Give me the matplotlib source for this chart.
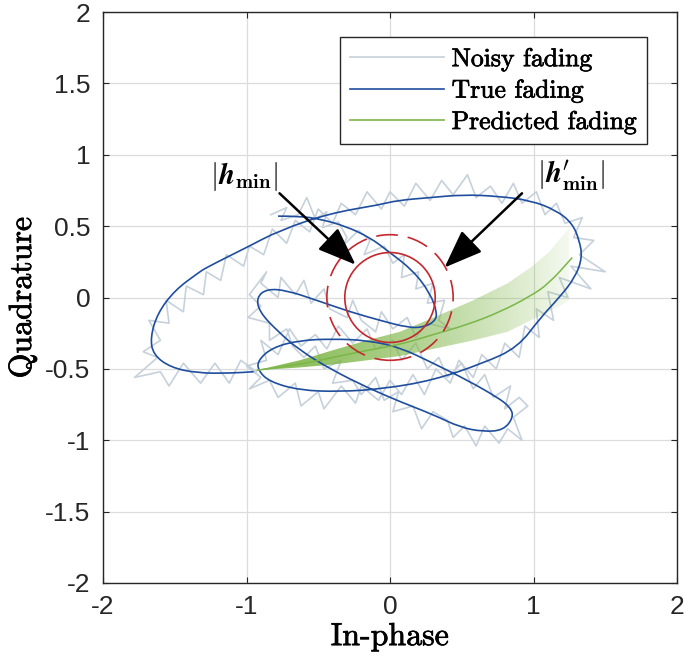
import numpy as np
import matplotlib
matplotlib.use("Agg")
import matplotlib.pyplot as plt
from matplotlib.patches import Polygon, Circle, PathPatch
from matplotlib.path import Path
from matplotlib.lines import Line2D
from matplotlib.colors import to_rgb
import matplotlib.patheffects as pe

# ---------------- data ----------------
true_x = [-0.78, -0.63, -0.49, -0.31, -0.14, -0.02, 0.16, 0.28, 0.33, 0.31, 0.23, 0.12,
          -0.07, -0.28, -0.51, -0.72, -0.86, -0.93, -0.91, -0.79, -0.63, -0.40, -0.16, 0.07,
          0.30, 0.49, 0.65, 0.79, 0.86, 0.84, 0.75, 0.54, 0.30, 0.07, -0.16, -0.40, -0.63,
          -0.82, -0.92, -0.92, -0.84, -0.63, -0.35, -0.05, 0.30, 0.65, 0.89, 1.05, 1.18,
          1.29, 1.34, 1.32, 1.27, 1.16, 0.98, 0.75, 0.51, 0.28, 0.05, -0.07, -0.42, -0.77,
          -1.00, -1.28, -1.34, -1.50, -1.62, -1.67, -1.65, -1.53, -1.34, -1.11, -0.95]
true_y = [0.57, 0.57, 0.55, 0.50, 0.42, 0.33, 0.19, 0.03, -0.11, -0.17, -0.21, -0.21,
          -0.16, -0.10, -0.02, 0.05, 0.06, 0.00, -0.10, -0.23, -0.37, -0.51, -0.63, -0.73,
          -0.82, -0.91, -0.94, -0.93, -0.84, -0.77, -0.70, -0.58, -0.46, -0.35, -0.30, -0.29,
          -0.30, -0.35, -0.44, -0.51, -0.59, -0.65, -0.66, -0.64, -0.58, -0.46, -0.35, -0.14,
          0.00, 0.14, 0.28, 0.40, 0.52, 0.61, 0.68, 0.71, 0.72, 0.70, 0.68, 0.65, 0.59,
          0.47, 0.35, 0.21, 0.17, 0.05, -0.11, -0.28, -0.40, -0.49, -0.53, -0.53, -0.52]

noisy_x = [-0.83, -0.72, -0.76, -0.64, -0.58, -0.52, -0.44, -0.47, -0.36, -0.30, -0.33, -0.22,
           -0.14, -0.18, -0.04, 0.02, 0.10, 0.08, 0.20, 0.18, 0.30, 0.26, 0.38, 0.34, 0.42, 0.26,
           0.18, 0.12, 0.02, -0.06, -0.10, -0.20, -0.26, -0.30, -0.42, -0.46, -0.55, -0.60,
           -0.66, -0.76, -0.78, -0.90, -0.86, -0.98, -0.90, -0.99, -0.84,
           -0.84, -0.72, -0.68, -0.60, -0.52, -0.46, -0.34, -0.40, -0.26, -0.20, -0.10, -0.04,
           0.06, 0.02, 0.16, 0.22, 0.30, 0.40, 0.44, 0.52, 0.60, 0.66, 0.76, 0.82, 0.92, 0.86,
           0.96, 0.90, 0.80, 0.84,
           0.72, 0.66, 0.58, 0.50, 0.40, 0.34, 0.26, 0.18, 0.08, 0.02, -0.10, -0.16, -0.26,
           -0.36, -0.44, -0.52, -0.62, -0.70, -0.78, -0.90, -0.86, -1.00, -0.90, -0.98,
           -0.84, -0.78, -0.66, -0.62, -0.50, -0.46, -0.34, -0.24, -0.20, -0.08, 0.00, 0.08,
           0.16, 0.24, 0.32, 0.42, 0.48, 0.58, 0.64, 0.74, 0.80, 0.90, 0.94, 1.04, 1.02,
           1.14, 1.10, 1.24, 1.18, 1.40, 1.26, 1.50, 1.32, 1.42, 1.28, 1.34, 1.22, 1.16, 1.08,
           1.02, 0.92, 0.86, 0.78, 0.70, 0.60, 0.54, 0.44, 0.36, 0.28, 0.18, 0.10, 0.00, -0.06,
           -0.16, -0.24, -0.34, -0.40, -0.50, -0.56, -0.66, -0.72, -0.82, -0.88, -0.98, -1.02,
           -1.14, -1.18, -1.28, -1.30, -1.42, -1.44, -1.56, -1.54, -1.68, -1.60, -1.72, -1.62,
           -1.78, -1.60, -1.54, -1.44, -1.32, -1.22, -1.12, -1.04, -0.93]
noisy_y = [0.58, 0.63, 0.54, 0.58, 0.70, 0.55, 0.60, 0.49, 0.53, 0.42, 0.36, 0.47,
           0.40, 0.30, 0.36, 0.24, 0.30, 0.14, 0.18, 0.06, 0.10, -0.04, -0.02, -0.16, -0.22, -0.18,
           -0.28, -0.14, -0.22, -0.10, -0.24, -0.16, -0.02, -0.14, -0.08, 0.06, -0.04, 0.12,
           0.02, 0.14, 0.00, 0.10, 0.18, 0.02, -0.06, -0.14, -0.18,
           -0.30, -0.22, -0.34, -0.42, -0.34, -0.50, -0.44, -0.60, -0.58, -0.68, -0.56, -0.72,
           -0.66, -0.80, -0.76, -0.92, -0.80, -0.86, -0.98, -0.90, -1.04, -0.90, -1.02, -0.92, -1.00, -0.84,
           -0.76, -0.70, -0.78, -0.62,
           -0.70, -0.54, -0.64, -0.46, -0.56, -0.42, -0.50, -0.32, -0.44, -0.30, -0.36, -0.22, -0.32,
           -0.20, -0.36, -0.26, -0.34, -0.22, -0.40, -0.30, -0.44, -0.48, -0.56, -0.64,
           -0.58, -0.70, -0.60, -0.76, -0.66, -0.78, -0.62, -0.74, -0.62, -0.72, -0.58, -0.68,
           -0.54, -0.68, -0.50, -0.60, -0.44, -0.56, -0.40, -0.50, -0.32, -0.42, -0.20, -0.28, -0.08,
           -0.16, 0.04, 0.00, 0.14, 0.06, 0.22, 0.18, 0.30, 0.40, 0.42, 0.56, 0.52, 0.66, 0.58,
           0.74, 0.66, 0.80, 0.66, 0.78, 0.70, 0.86, 0.72, 0.82, 0.68, 0.80, 0.64, 0.74, 0.62,
           0.74, 0.58, 0.66, 0.52, 0.62, 0.46, 0.54, 0.38, 0.48, 0.30, 0.36, 0.22,
           0.30, 0.12, 0.18, 0.02, 0.08, -0.10, -0.02, -0.18, -0.16, -0.30, -0.38, -0.42,
           -0.56, -0.52, -0.62, -0.46, -0.60, -0.46, -0.60, -0.44, -0.52]

pred_x = [-0.93, -0.63, -0.40, -0.16, 0.07, 0.30, 0.54, 0.77, 0.98, 1.11, 1.27]
pred_y = [-0.51, -0.47, -0.42, -0.37, -0.33, -0.26, -0.19, -0.10, 0.01, 0.10, 0.28]

band_x = [-0.93, -0.63, -0.40, -0.16, 0.07, 0.35, 0.58, 0.82, 0.98, 1.11, 1.25]
band_hi = [-0.51, -0.44, -0.37, -0.30, -0.24, -0.12, -0.02, 0.10, 0.21, 0.32, 0.49]
band_lo = [-0.51, -0.49, -0.47, -0.44, -0.41, -0.35, -0.30, -0.24, -0.16, -0.10, -0.02]

r_min = 0.315
r_min_prime = 0.44

x_ticks = [-2, -1, 0, 1, 2]
y_ticks = [-2, -1.5, -1, -0.5, 0, 0.5, 1, 1.5, 2]
x_ticklabels = ["-2", "-1", "0", "1", "2"]
y_ticklabels = ["-2", "-1.5", "-1", "-0.5", "0", "0.5", "1", "1.5", "2"]

# ---------------- styling ----------------
plt.rcParams["mathtext.fontset"] = "cm"
plt.rcParams["axes.unicode_minus"] = False

c_noisy = "#C6D1DB"
c_true = "#1F4E9E"
c_pred = "#7AB648"
c_band = "#7DB545"
c_red = "#C3282E"
bold_fx = [pe.withStroke(linewidth=0.5, foreground="black")]


def smooth_path(xs, ys):
    """Quadratic B-spline path through the read points (drawn by matplotlib's Path)."""
    pts = list(zip(xs, ys))
    verts = [pts[0]]
    codes = [Path.MOVETO]
    for i in range(1, len(pts) - 1):
        mid = ((pts[i][0] + pts[i + 1][0]) / 2, (pts[i][1] + pts[i + 1][1]) / 2)
        verts += [pts[i], mid]
        codes += [Path.CURVE3, Path.CURVE3]
    verts.append(pts[-1])
    codes.append(Path.LINETO)
    return Path(verts, codes)


fig = plt.figure(figsize=(6.85, 6.68), dpi=100)
ax = fig.add_axes([103 / 685, 85 / 668, 574 / 685, 571 / 668])

ax.grid(True, color="#DCDCDC", linewidth=0.9, zorder=0)
ax.set_axisbelow(True)

ax.plot(noisy_x, noisy_y, color=c_noisy, linewidth=1.2, zorder=1)

# gradient-filled prediction band
verts = np.column_stack([np.r_[band_x, band_x[::-1]], np.r_[band_hi, band_lo[::-1]]])
poly = Polygon(verts, closed=True, facecolor="none", edgecolor="none")
ax.add_patch(poly)
g = np.linspace(0, 1, 256)
img = np.zeros((1, 256, 4))
img[..., :3] = to_rgb(c_band)
img[..., 3] = 0.92 - 0.84 * g ** 1.4
im = ax.imshow(img, extent=[min(band_x), max(band_x), min(band_lo), max(band_hi)],
               aspect="auto", origin="lower", zorder=2, interpolation="bilinear")
im.set_clip_path(poly)

ax.add_patch(PathPatch(smooth_path(true_x, true_y), facecolor="none", edgecolor=c_true,
                       linewidth=1.2, zorder=3))
ax.add_patch(PathPatch(smooth_path(pred_x, pred_y), facecolor="none", edgecolor=c_pred,
                       linewidth=1.1, zorder=4))

ax.add_patch(Circle((0, 0), r_min, fill=False, edgecolor=c_red, linewidth=1.2, zorder=5))
ax.add_patch(Circle((0, 0), r_min_prime, fill=False, edgecolor=c_red, linewidth=1.2,
                    linestyle=(0, (13, 6)), zorder=5))

arrow_kw = dict(arrowstyle="-|>,head_length=1.7,head_width=0.65", color="black",
                linewidth=1.8, mutation_scale=14, shrinkA=0, shrinkB=0)
ax.annotate("", xy=(-0.24, 0.23), xytext=(-0.77, 0.73), arrowprops=arrow_kw, zorder=6)
ax.annotate("", xy=(0.38, 0.21), xytext=(0.92, 0.73), arrowprops=arrow_kw, zorder=6)

ax.text(-1.02, 0.85, r"$|\boldsymbol{h}_{\mathbf{min}}|$", fontsize=21,
        ha="center", va="center", zorder=7)
ax.text(1.26, 0.85, r"$|\boldsymbol{h}^{\prime}_{\mathbf{min}}|$", fontsize=21,
        ha="center", va="center", zorder=7)

ax.set_xlim(-2, 2)
ax.set_ylim(-2, 2)
ax.set_xticks(x_ticks)
ax.set_yticks(y_ticks)
ax.set_xticklabels(x_ticklabels, fontfamily="Liberation Sans")
ax.set_yticklabels(y_ticklabels, fontfamily="Liberation Sans")
ax.tick_params(direction="in", length=4, width=0.8, top=True, right=True,
               labelsize=19, pad=9, colors="#262626")
for s in ax.spines.values():
    s.set_linewidth(1.0)
    s.set_color("#262626")

xl = ax.set_xlabel("In-phase", fontfamily="cmr10", fontsize=23, labelpad=3)
yl = ax.set_ylabel("Quadrature", fontfamily="cmr10", fontsize=23, labelpad=6)
xl.set_path_effects(bold_fx)
yl.set_path_effects(bold_fx)

handles = [Line2D([], [], color=c_noisy, linewidth=1.2),
           Line2D([], [], color=c_true, linewidth=1.2),
           Line2D([], [], color=c_pred, linewidth=1.2)]
labels = ["Noisy fading", "True fading", "Predicted fading"]
leg = ax.legend(handles, labels, loc="upper right", bbox_to_anchor=(0.948, 0.956),
                borderaxespad=0, prop={"family": "cmr10", "size": 18.5}, frameon=True,
                fancybox=False, framealpha=1, edgecolor="#262626", handlelength=3.65,
                handletextpad=0.3, labelspacing=0.3, borderpad=0.4)
leg.get_frame().set_linewidth(1.0)
for t in leg.get_texts():
    t.set_path_effects(bold_fx)

fig.savefig("out.png", dpi=100)
